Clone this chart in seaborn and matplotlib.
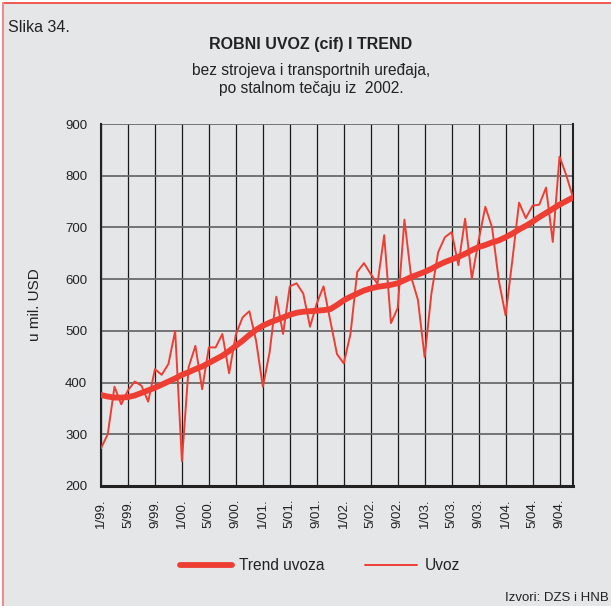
import pandas as pd
import seaborn as sns
import matplotlib.pyplot as plt
from matplotlib.lines import Line2D
from matplotlib.patches import Rectangle

# Mjesečni podaci, 1/99 - 11/04 (mil. USD)
uvoz = [273, 300, 392, 358, 385, 402, 394, 363, 426, 415, 436, 500,
        248, 430, 471, 387, 468, 468, 494, 418, 493, 526, 538, 481,
        392, 458, 566, 494, 586, 592, 572, 508, 553, 586, 520, 455,
        437, 494, 614, 631, 610, 591, 685, 515, 544, 715, 604, 560,
        449, 572, 652, 681, 691, 627, 717, 601, 675, 740, 700, 597,
        530, 636, 748, 718, 742, 744, 777, 672, 837, 801, 758]

trend = [376, 373, 371, 371, 372, 375, 380, 385, 390, 396, 402, 408,
         415, 420, 426, 431, 438, 445, 452, 461, 471, 481, 492, 502,
         510, 516, 521, 526, 531, 535, 537, 538, 539, 540, 542, 550,
         559, 566, 572, 578, 582, 585, 587, 589, 592, 598, 604, 609,
         614, 620, 627, 633, 638, 643, 649, 656, 662, 666, 671, 675,
         681, 688, 696, 703, 711, 720, 728, 736, 744, 751, 758]

tick_labels = ['1/99.', '5/99.', '9/99.', '1/00.', '5/00.', '9/00.',
               '1/01.', '5/01.', '9/01.', '1/02.', '5/02.', '9/02.',
               '1/03.', '5/03.', '9/03.', '1/04.', '5/04.', '9/04.']

df = pd.DataFrame({'mj': range(len(uvoz)), 'uvoz': uvoz, 'trend': trend})

sns.set_style('white')
plt.rcParams['font.family'] = ['Liberation Sans', 'DejaVu Sans']

bg = '#e5e6e8'
red = '#ee3e33'
txt = '#222222'

fig = plt.figure(figsize=(6.11, 6.06), dpi=100)
fig.patch.set_facecolor('white')
# sivi okvir s crvenim rubom
fig.patches.append(Rectangle((3 / 611, 0), 1, 1 - 3 / 606, transform=fig.transFigure,
                             facecolor=bg, edgecolor='none', zorder=-10))
fig.add_artist(Line2D([3 / 611, 1], [1 - 3 / 606] * 2, color=red, lw=1.2))
fig.add_artist(Line2D([3 / 611] * 2, [0, 1 - 3 / 606], color='#ef8c86', lw=1.5))

ax = fig.add_axes([101 / 611, 1 - 486 / 606, 472 / 611, 362 / 606])
ax.set_facecolor(bg)

sns.lineplot(data=df, x='mj', y='trend', color=red, linewidth=4.2, ax=ax, zorder=3)
sns.lineplot(data=df, x='mj', y='uvoz', color=red, linewidth=1.4, ax=ax, zorder=4)

ax.set_xlim(0, len(uvoz) - 1)
ax.set_ylim(200, 900)
ax.set_yticks(range(200, 901, 100))
ax.set_xticks(range(0, 69, 4))
ax.set_xticklabels(tick_labels, rotation=90, fontsize=9.5, color=txt)
ax.tick_params(axis='y', labelsize=9.5, labelcolor=txt, length=6, color='#555555', width=1.2, pad=4)
ax.tick_params(axis='x', length=6, color='#222222', width=1, pad=3)
ax.grid(axis='y', color='#6a6a6a', linewidth=1.3)
ax.grid(axis='x', color='#1a1a1a', linewidth=0.9)
for s in ['left', 'right', 'bottom', 'top']:
    ax.spines[s].set_visible(True)
    ax.spines[s].set_color('#222222')
    ax.spines[s].set_linewidth(1.5)
ax.spines['bottom'].set_linewidth(2.2)
ax.spines['top'].set_visible(False)
ax.set_xlabel('')
ax.set_ylabel('')

fig.text(35 / 611, 1 - 305 / 606, 'u mil. USD', rotation=90, ha='center', va='center',
         fontsize=11, color=txt)

fig.text(8 / 611, 1 - 27 / 606, 'Slika 34.', ha='left', va='center', fontsize=11.5, color=txt)
fig.text(311 / 611, 1 - 45 / 606, 'ROBNI UVOZ (cif) I TREND', ha='center', va='center',
         fontsize=11.5, fontweight='bold', color=txt)
fig.text(311 / 611, 1 - 71 / 606, 'bez strojeva i transportnih uređaja,', ha='center',
         va='center', fontsize=11.2, color=txt)
fig.text(311 / 611, 1 - 89 / 606, 'po stalnom tečaju iz  2002.', ha='center',
         va='center', fontsize=11.2, color=txt)
fig.text(609 / 611, 1 - 598 / 606, 'Izvori: DZS i HNB', ha='right', va='center', fontsize=9.5, color=txt)

handles = [Line2D([], [], color=red, lw=4.2), Line2D([], [], color=red, lw=1.4)]
leg = fig.legend(handles, ['Trend uvoza', 'Uvoz'], loc='center', ncol=2,
                 bbox_to_anchor=(320 / 611, 1 - 566 / 606), frameon=False,
                 fontsize=11.2, handlelength=3.3, columnspacing=2.6, handletextpad=0.5)
for t in leg.get_texts():
    t.set_color(txt)

plt.savefig('out.png', dpi=100, facecolor=fig.get_facecolor())
